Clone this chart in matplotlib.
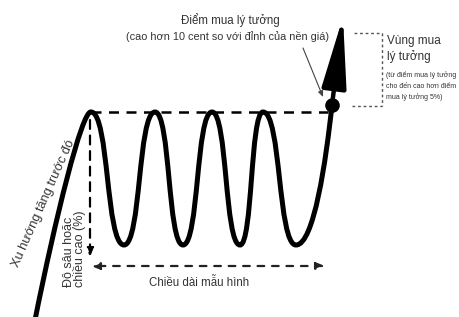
import matplotlib
matplotlib.use("Agg")
from matplotlib import pyplot as plt
from matplotlib.path import Path
from matplotlib.patches import PathPatch, FancyArrowPatch

# diagram key points, in picture pixels (y grows downward)
start_pt = (35, 320)
peak_x = [91, 155, 212, 263]
trough_x = [124, 183, 240, 296]
peak_y = 112
trough_y = 245
buy_pt = (332, 105)
arrow_tip = (343, 17)
zone_top, zone_bottom = 33, 106

title_lines = ["Điểm mua lý tưởng", "(cao hơn 10 cent so với đỉnh của nền giá)"]
zone_lines = ["Vùng mua", "lý tưởng"]
zone_note = ["(từ điểm mua lý tưởng", "cho đến cao hơn điểm", "mua lý tưởng 5%)"]
trend_label = "Xu hướng tăng trước đó"
depth_label = "Độ sâu hoặc\nchiều cao (%)"
length_label = "Chiều dài mẫu hình"

plt.rcParams["font.family"] = ["Liberation Sans", "DejaVu Sans"]
txt = "#333333"

fig = plt.figure(figsize=(4.59, 3.17), dpi=100)
ax = fig.add_axes([0, 0, 1, 1])
ax.set_xlim(0, 459)
ax.set_ylim(317, 0)
ax.axis("off")

# price curve built from cubic bezier pieces
verts = [start_pt, (55, 220), (82, peak_y - 2), (peak_x[0], peak_y)]
codes = [Path.MOVETO] + [Path.CURVE4] * 3
k = 0.55
for i in range(len(peak_x)):
    px, tx = peak_x[i], trough_x[i]
    dx = tx - px
    verts += [(px + k * dx, peak_y), (tx - k * dx, trough_y), (tx, trough_y)]
    codes += [Path.CURVE4] * 3
    if i + 1 < len(peak_x):
        nx = peak_x[i + 1]
        dx = nx - tx
        verts += [(tx + k * dx, trough_y), (nx - k * dx, peak_y), (nx, peak_y)]
        codes += [Path.CURVE4] * 3
tx = trough_x[-1]
verts += [(tx + 18, trough_y), (buy_pt[0] - 6, buy_pt[1] + 55), buy_pt]
codes += [Path.CURVE4] * 3
ax.add_patch(PathPatch(Path(verts, codes), fill=False, lw=3.6, color="black", capstyle="round"))

# big breakout arrow
ax.add_patch(FancyArrowPatch(buy_pt, arrow_tip, arrowstyle="-|>,head_length=4.3,head_width=0.75",
                             mutation_scale=10, lw=3.2, color="black", shrinkA=0, shrinkB=0))
ax.plot([buy_pt[0]], [buy_pt[1]], "o", ms=9.5, color="black")

# resistance line
ax.plot([peak_x[0], buy_pt[0] - 4], [peak_y, peak_y], color="black", lw=1.8, ls=(0, (4, 3)))

# depth arrow
ax.annotate("", xy=(peak_x[0] - 1, trough_y + 12), xytext=(peak_x[0] - 1, peak_y + 8),
            arrowprops=dict(arrowstyle="-|>,head_length=0.5,head_width=0.2", lw=1.6,
                            ls=(0, (4, 3)), color="black", shrinkA=0, shrinkB=0))

# pattern length arrow
ax.annotate("", xy=(peak_x[0], trough_y + 21), xytext=(buy_pt[0] - 7, trough_y + 21),
            arrowprops=dict(arrowstyle="<|-|>,head_length=0.5,head_width=0.2", lw=1.6,
                            ls=(0, (3, 3.5)), color="#222222", shrinkA=0, shrinkB=0))

# ideal buy zone bracket
dot = dict(color="#555555", lw=1.0, ls=(0, (2, 2)))
ax.plot([buy_pt[0] + 22, 382], [zone_top, zone_top], **dot)
ax.plot([buy_pt[0] + 20, 382], [zone_bottom, zone_bottom], **dot)
ax.plot([382, 382], [zone_top, zone_bottom], **dot)

# annotation pointer to the buy point
ax.annotate("", xy=(323, 97), xytext=(303, 48),
            arrowprops=dict(arrowstyle="-|>,head_length=0.35,head_width=0.15", lw=0.8,
                            color="#444444", shrinkA=0, shrinkB=0))

# texts
ax.text(230, 20, title_lines[0], ha="center", va="center", fontsize=8.3, color=txt)
ax.text(228, 36, title_lines[1], ha="center", va="center", fontsize=7.8, color=txt)
ax.text(387, 41, zone_lines[0], ha="left", va="center", fontsize=8.5, color=txt)
ax.text(387, 57, zone_lines[1], ha="left", va="center", fontsize=8.5, color=txt)
for j, line in enumerate(zone_note):
    ax.text(386, 75 + j * 11, line, ha="left", va="center", fontsize=5.0, color=txt)
ax.text(44, 204, trend_label, ha="center", va="center", rotation=66, rotation_mode="anchor",
        fontsize=9.2, color=txt)
ax.text(74, 249, depth_label, ha="center", va="center", rotation=90, multialignment="left",
        fontsize=9, color=txt, linespacing=0.95)
ax.text(199, 283, length_label, ha="center", va="center", fontsize=8.3, color=txt)

fig.savefig("out.png", dpi=100)
